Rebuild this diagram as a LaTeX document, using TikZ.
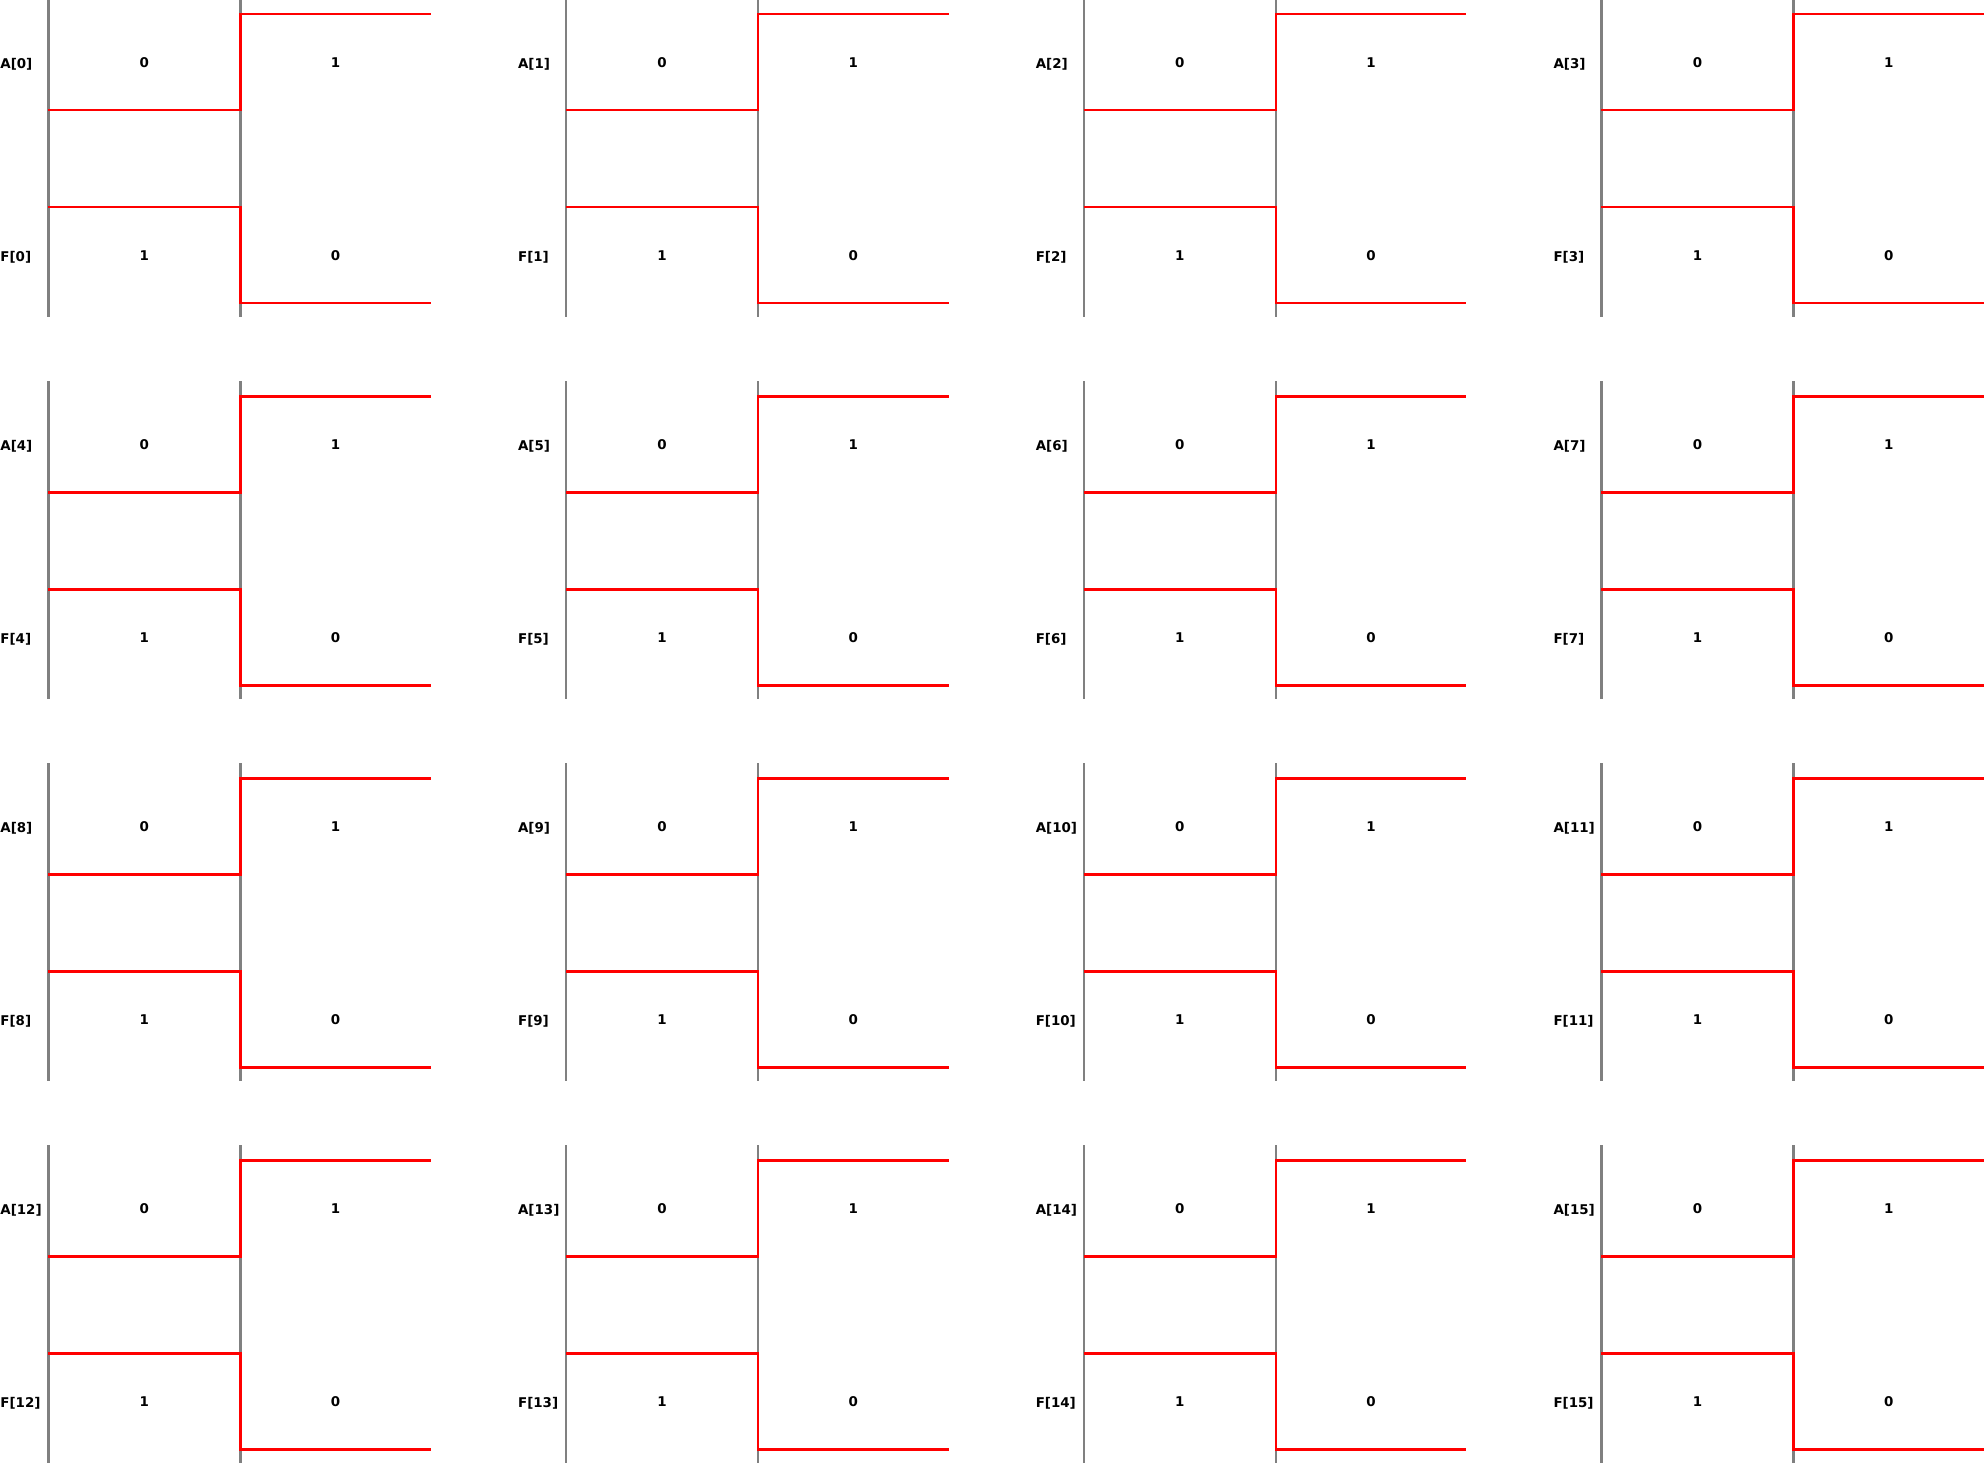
\documentclass[tikz,border=0pt]{standalone}
\usepackage{fontspec}
\setmainfont{DejaVu Sans}
\begin{document}
\begin{tikzpicture}[
  x=0.5pt, y=-0.5pt,
  every node/.style={font=\bfseries\fontsize{6.7}{8}\selectfont, inner sep=0pt},
  gridline/.style={draw=gray, line width=1.2pt},
  wave/.style={draw=red, line width=1.2pt},
  siglabel/.style={anchor=west}
]
\useasboundingbox (0,0) rectangle (1984,1465);
\clip (0,0) rectangle (1984,1465);
\foreach \i in {0,...,15}{
  \pgfmathsetmacro{\xo}{48.3+517.7*mod(\i,4)}
  \pgfmathsetmacro{\yo}{14.3+382*int(\i/4)}
  \begin{scope}[shift={(\xo,\yo)}]
    \draw[gridline] (0,-15) -- (0,303);
    \draw[gridline] (192,-15) -- (192,303);
    % A goes 0 -> 1, F goes 1 -> 0
    \draw[wave] (0,96) -| (192,0) -- (382.7,0);
    \draw[wave] (0,193) -| (192,289) -- (382.7,289);
    \node[siglabel] (alab\i) at (-48.3,49.5) {A[\i]};
    \node (azero\i) at (96,48) {0};
    \node (aone\i) at (287.3,48) {1};
    \node[siglabel] (flab\i) at (-48.3,242.5) {F[\i]};
    \node (fone\i) at (96,241) {1};
    \node (fzero\i) at (287.3,241) {0};
  \end{scope}
}
\end{tikzpicture}
\end{document}
